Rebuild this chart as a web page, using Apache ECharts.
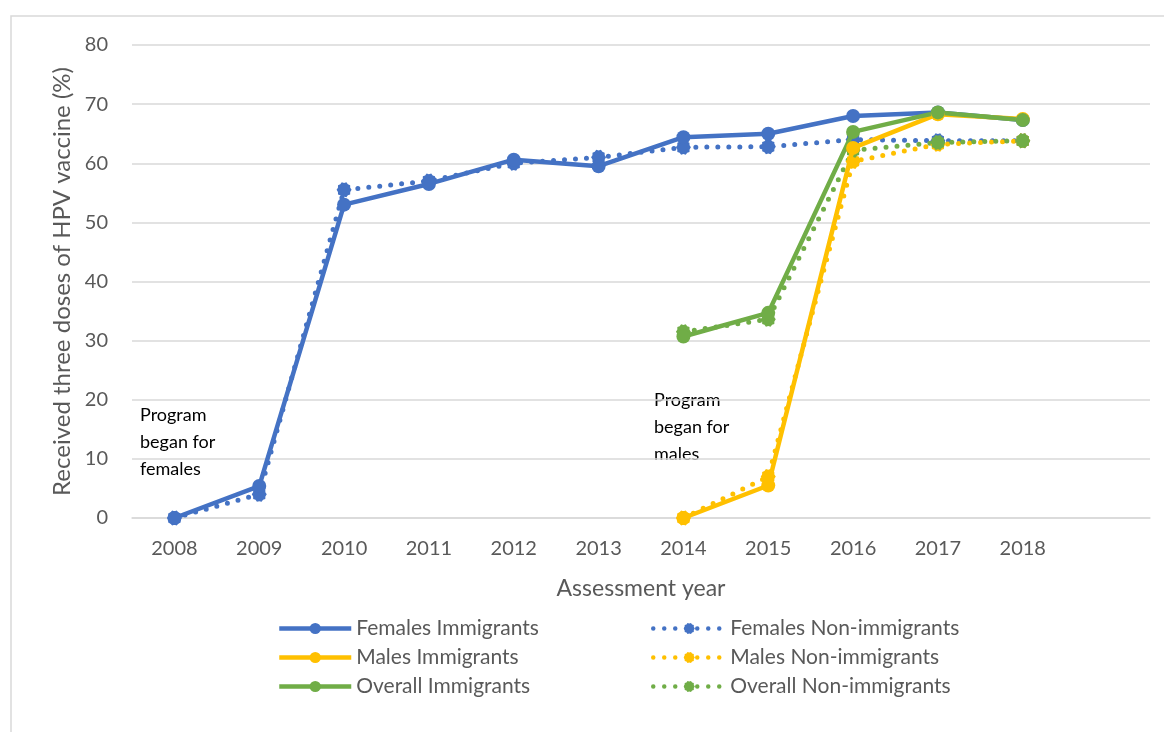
<!DOCTYPE html>
<html><head><meta charset="utf-8">
<script src="https://cdn.jsdelivr.net/npm/echarts@6/dist/echarts.min.js"></script>
<style>html,body{margin:0;padding:0;background:#fff}#c{width:1164px;height:732px}</style>
</head><body><div id="c"></div>
<script>
const years = ['2008','2009','2010','2011','2012','2013','2014','2015','2016','2017','2018',''];
const femalesImm    = [0, 5.4, 53.0, 56.5, 60.6, 59.5, 64.4, 65.0, 68.0, 68.6, 67.3, null];
const femalesNonImm = [0, 4.0, 55.5, 57.0, 60.0, 61.0, 62.7, 62.8, 64.0, 63.8, 63.8, null];
const malesImm      = [null, null, null, null, null, null, 0, 5.5, 62.6, 68.3, 67.5, null];
const malesNonImm   = [null, null, null, null, null, null, 0, 7.0, 60.3, 63.2, 63.8, null];
const overallImm    = [null, null, null, null, null, null, 30.7, 34.7, 65.3, 68.6, 67.3, null];
const overallNonImm = [null, null, null, null, null, null, 31.5, 33.6, 62.2, 63.5, 63.8, null];
const yTicks = [0,10,20,30,40,50,60,70,80];

const BLUE='#4472C4', YEL='#FFC000', GRN='#70AD47';
// jagged burst marker for dotted series
let pts=[];
for(let k=0;k<20;k++){const a=k*Math.PI/10, r=(k%2?8.6:10);pts.push((10+r*Math.cos(a)).toFixed(2)+' '+(10+r*Math.sin(a)).toFixed(2));}
const burst='path://M'+pts.join(' L')+' Z';

function solid(name,data,color){return {name,type:'line',data,symbol:'circle',symbolSize:14,connectNulls:false,
  itemStyle:{color},lineStyle:{color,width:4.5},z:3};}
function dotted(name,data,color){return {name,type:'line',data,symbol:burst,symbolSize:15,
  itemStyle:{color},lineStyle:{color,width:5,type:[0,11],cap:'round'},z:2};}

const chart=echarts.init(document.getElementById('c'));
const txt={fontFamily:'Lato',fontSize:20,color:'#595959'};
const legTxt={fontFamily:'Lato',fontSize:21,color:'#595959',lineHeight:20};
chart.setOption({
  animation:false,
  textStyle:{fontFamily:'Lato'},
  grid:{left:132,right:14,top:45,bottom:214},
  xAxis:{type:'category',data:years,boundaryGap:true,
    axisLine:{lineStyle:{color:'#d9d9d9',width:1.5}},axisTick:{show:false},
    axisLabel:Object.assign({margin:21},txt),
    name:'Assessment year',nameLocation:'middle',nameGap:59,nameTextStyle:Object.assign({},txt,{fontSize:23})},
  yAxis:{type:'value',min:0,max:80,interval:10,
    axisLabel:Object.assign({margin:24,formatter:v=>yTicks.includes(v)?String(v):''},txt),
    splitLine:{lineStyle:{color:'#d9d9d9',width:1.5}},axisLine:{show:false},
    name:'Received three doses of HPV vaccine (%)',nameLocation:'middle',nameGap:57,nameRotate:90,
    nameTextStyle:Object.assign({},txt,{fontSize:24})},
  legend:[
    {orient:'vertical',left:272,top:613,itemWidth:72,itemHeight:14,itemGap:8,
      lineStyle:{width:4.5},textStyle:legTxt,data:['Females Immigrants','Males Immigrants','Overall Immigrants']},
    {orient:'vertical',left:646,top:613,itemWidth:72,itemHeight:14,itemGap:8,
      lineStyle:{width:4.5},textStyle:legTxt,data:['Females Non-immigrants','Males Non-immigrants','Overall Non-immigrants']}
  ],
  graphic:[
    {type:'rect',shape:{x:11,y:16,width:1300,height:900},style:{fill:null,stroke:'#d9d9d9',lineWidth:1.5},silent:true,z:-1},
    {type:'text',left:140,top:402,style:{text:'Program\nbegan for\nfemales',fontFamily:'Lato',fontSize:18,lineHeight:27,fill:'#000'}},
    {type:'text',left:654,top:387,style:{text:'Program\nbegan for\nmales',fontFamily:'Lato',fontSize:18,lineHeight:27,fill:'#000'}}
  ],
  series:[
    solid('Females Immigrants',femalesImm,BLUE),
    dotted('Females Non-immigrants',femalesNonImm,BLUE),
    solid('Males Immigrants',malesImm,YEL),
    dotted('Males Non-immigrants',malesNonImm,YEL),
    solid('Overall Immigrants',overallImm,GRN),
    dotted('Overall Non-immigrants',overallNonImm,GRN)
  ]
});
</script></body></html>
